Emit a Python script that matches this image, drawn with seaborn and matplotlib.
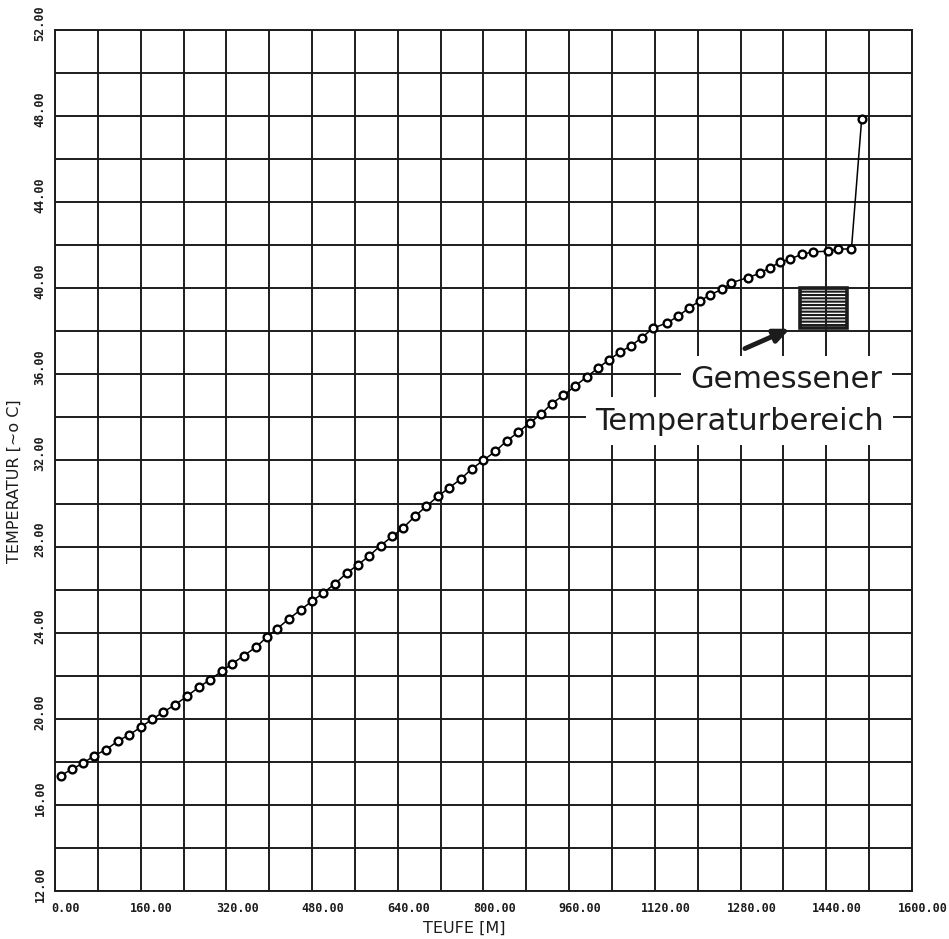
import numpy as np
import pandas as pd
import matplotlib
matplotlib.use("Agg")
import matplotlib.pyplot as plt
import matplotlib.transforms as mtrans
from matplotlib.patches import Rectangle
import seaborn as sns

# ---- data ----
depth = [11, 32, 53, 73, 95, 118, 139, 160, 182, 202,
         224, 246, 268, 289, 311, 331, 353, 375, 395, 414,
         437, 459, 480, 501, 523, 545, 566, 587, 608, 630,
         650, 672, 693, 715, 736, 758, 778, 800, 822, 843,
         865, 886, 907, 927, 949, 971, 993, 1013, 1034, 1055,
         1075, 1095, 1116, 1143, 1164, 1184, 1204, 1223, 1245, 1263,
         1294, 1316, 1335, 1354, 1372, 1394, 1416, 1444, 1462, 1487,
         1506]
temperature = [17.36, 17.67, 17.94, 18.29, 18.56, 18.98, 19.26, 19.61, 19.99, 20.31,
               20.65, 21.04, 21.46, 21.81, 22.20, 22.56, 22.94, 23.33, 23.78, 24.17,
               24.65, 25.07, 25.47, 25.85, 26.28, 26.78, 27.16, 27.58, 28.05, 28.48,
               28.87, 29.41, 29.87, 30.34, 30.73, 31.15, 31.61, 32.01, 32.43, 32.90,
               33.32, 33.75, 34.14, 34.64, 35.02, 35.46, 35.89, 36.28, 36.67, 37.04,
               37.32, 37.70, 38.14, 38.40, 38.71, 39.10, 39.41, 39.70, 39.95, 40.26,
               40.50, 40.70, 40.96, 41.22, 41.35, 41.58, 41.69, 41.73, 41.81, 41.84,
               47.86]

x_major = [0, 160, 320, 480, 640, 800, 960, 1120, 1280, 1440, 1600]
x_minor = [80, 240, 400, 560, 720, 880, 1040, 1200, 1360, 1520]
y_major = [12, 16, 20, 24, 28, 32, 36, 40, 44, 48, 52]
y_minor = [14, 18, 22, 26, 30, 34, 38, 42, 46, 50]

measured_depth = [1390, 1478]
measured_temp = [38.17, 40.03]

annotation_lines = ["Gemessener", "Temperaturbereich"]
x_label = "TEUFE [M]"
y_label = "TEMPERATUR [~o C]"

# ---- figure ----
sns.set_style("white")
plt.rcParams["hatch.linewidth"] = 1.5
ink = "#1c1c1c"

fig = plt.figure(figsize=(9.49, 9.39), dpi=100)
ax = fig.add_axes([55 / 949, 1 - 891 / 939, (912 - 55) / 949, (891 - 30) / 939])

df = pd.DataFrame({"Teufe": depth, "Temperatur": temperature})
sns.lineplot(data=df, x="Teufe", y="Temperatur", sort=False, ax=ax,
             color="black", lw=1.1, marker="o", markersize=5.6,
             markerfacecolor="white", markeredgecolor="black",
             markeredgewidth=1.7, zorder=6)

ax.set_xlim(0, 1600)
ax.set_ylim(12, 52)
ax.set_axisbelow(True)

ax.set_xticks(x_major)
ax.set_xticks(x_minor, minor=True)
ax.set_yticks(y_major)
ax.set_yticks(y_minor, minor=True)
ax.set_xticklabels([f"{v:.2f}" for v in x_major], fontfamily="DejaVu Sans Mono",
                   fontweight="bold", fontsize=8.5)
ax.set_yticklabels([f"{v:.2f}" for v in y_major], fontfamily="DejaVu Sans Mono",
                   fontweight="bold", fontsize=8.5, rotation=90, va="center")

ax.grid(which="both", color=ink, lw=1.4)
ax.tick_params(axis="x", which="both", direction="out", length=4.5, width=1.4,
               color=ink, pad=3.5, labelcolor=ink)
ax.tick_params(axis="y", which="both", direction="out", length=7, width=1.4,
               color=ink, pad=-1, labelcolor=ink)
for s in ax.spines.values():
    s.set_visible(True)
    s.set_color(ink)
    s.set_linewidth(1.4)

# shift tick labels like the plotter output
dx = mtrans.ScaledTranslation(11 / 100, 0, fig.dpi_scale_trans)
for lab in ax.get_xticklabels():
    lab.set_transform(lab.get_transform() + dx)
dy = mtrans.ScaledTranslation(0, 7 / 100, fig.dpi_scale_trans)
for lab in ax.get_yticklabels():
    lab.set_transform(lab.get_transform() + dy)

ax.set_xlabel(x_label, fontsize=11.5, color=ink)
ax.set_ylabel(y_label, fontsize=11.5, color=ink)
ax.xaxis.set_label_coords(0.478, -0.035)
ax.yaxis.set_label_coords(-0.039, 0.476)

# measured temperature range box
ax.add_patch(Rectangle((measured_depth[0], measured_temp[0]),
                       measured_depth[1] - measured_depth[0],
                       measured_temp[1] - measured_temp[0],
                       fill=False, hatch="-----", lw=2.6, edgecolor=ink, zorder=5))
ax.annotate("", xy=(1372, 38.12), xytext=(1288, 37.2),
            arrowprops=dict(arrowstyle="-|>,head_length=0.9,head_width=0.4",
                            lw=3.5, color=ink, shrinkA=0, shrinkB=0), zorder=5)

bb = dict(facecolor="white", edgecolor="none", boxstyle="square,pad=0.3")
ax.text(1545, 35.38, annotation_lines[0], ha="right", va="baseline",
        fontsize=22, color=ink, bbox=bb, zorder=4)
ax.text(1547, 33.44, annotation_lines[1], ha="right", va="baseline",
        fontsize=22, color=ink, bbox=bb, zorder=4)

fig.savefig("out.png", dpi=100)
